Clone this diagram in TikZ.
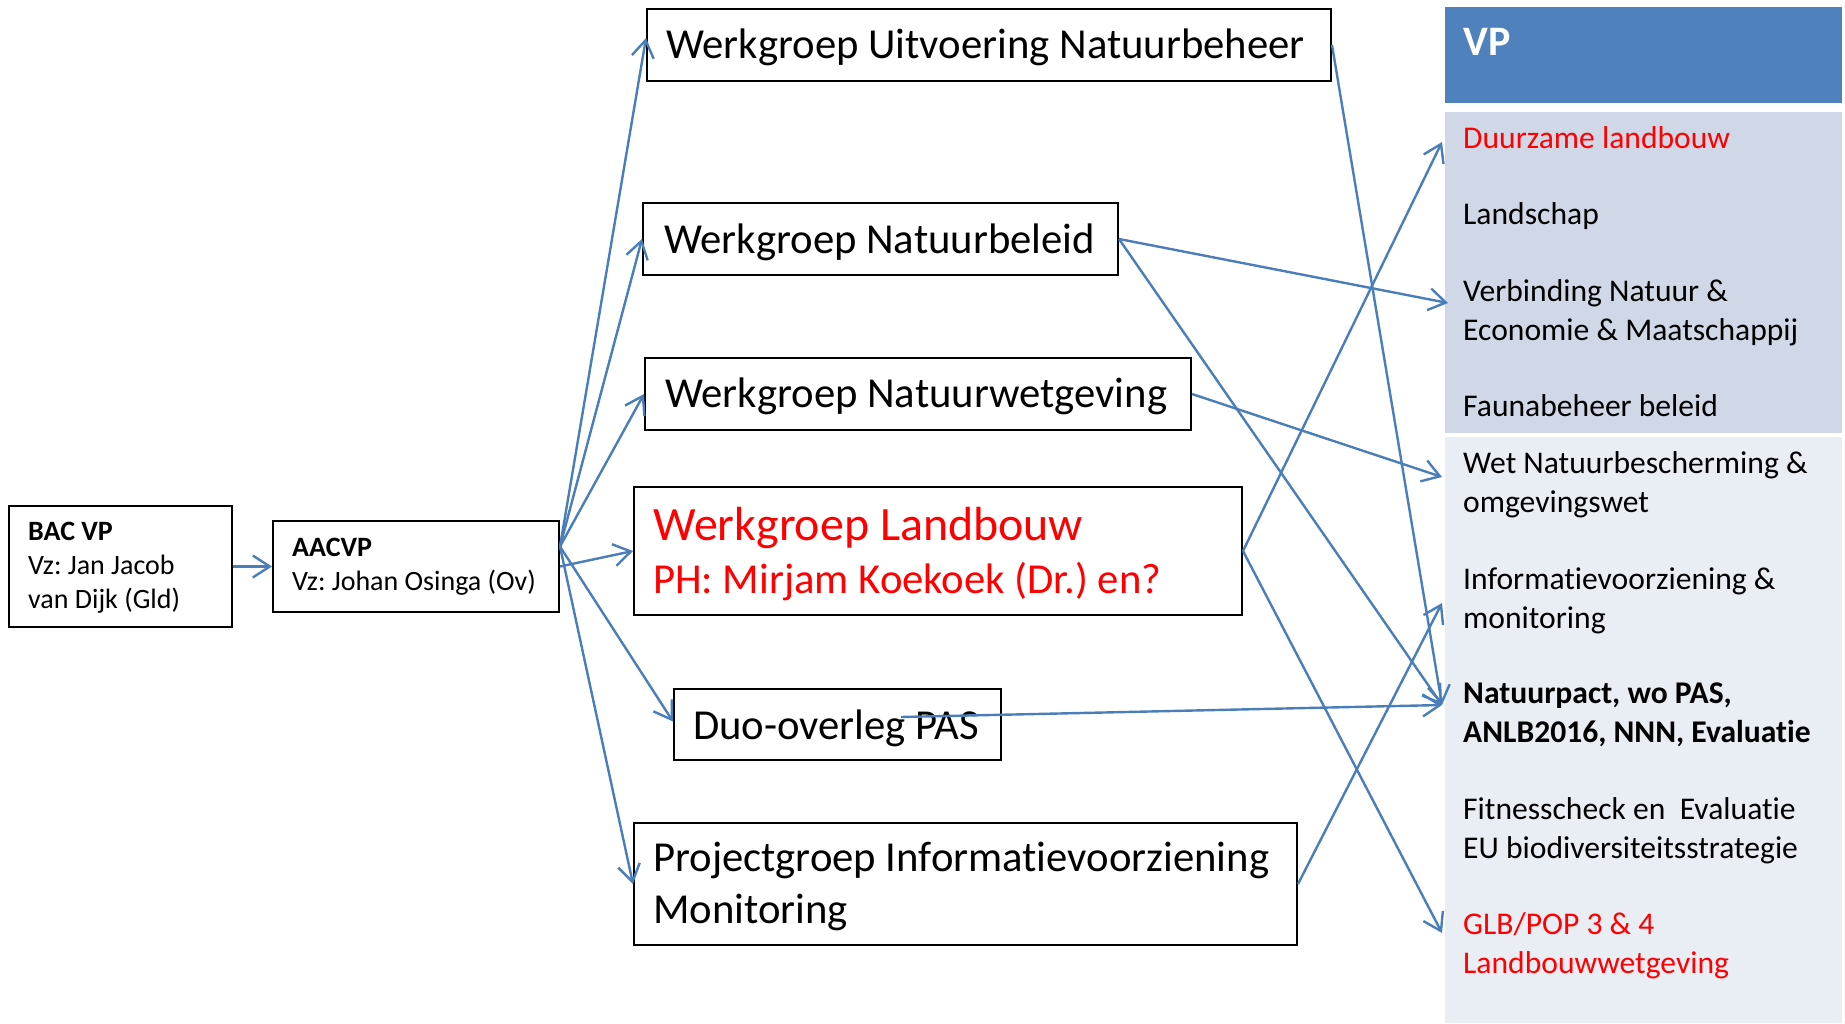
\documentclass[tikz,border=0pt]{standalone}
\usepackage{fontspec}
\setmainfont{Carlito}[Ligatures=NoCommon]
\usetikzlibrary{arrows.meta,calc}
\definecolor{lineblue}{HTML}{4A7EBB}
\definecolor{headblue}{HTML}{4F81BD}
\definecolor{panelA}{HTML}{D0D8E8}
\definecolor{panelB}{HTML}{E9EDF4}
\definecolor{textred}{HTML}{FF0000}
\frenchspacing
\begin{document}
\begin{tikzpicture}[x=1pt,y=-1pt,
  box/.style={draw=black,line width=2pt,fill=white,inner sep=0pt,anchor=north west},
  txt/.style={anchor=base west,align=left,inner sep=0pt},
  conn/.style={draw=lineblue,line width=2.4pt,-{Straight Barb[length=17pt,width=22pt]}},
  midf/.style={font=\fontsize{42.7}{51.5}\selectfont},
  smallf/.style={font=\fontsize{28}{33.8}\selectfont},
  panel/.style={anchor=north west,inner sep=0pt,minimum width=397pt},
  item/.style={anchor=west,align=left,inner xsep=21pt,inner ysep=0pt,font=\fontsize{31.6}{38.7}\selectfont}
]
\useasboundingbox (0,0) rectangle (1845,1023);

% right panel
\node[panel,fill=headblue,minimum height=96pt] (head) at (1445,7) {};
\node[panel,fill=panelA,minimum height=321pt] (panA) at (1445,112) {};
\node[panel,fill=panelB,minimum height=586pt] (panB) at (1445,437) {};
\node[anchor=base west,inner sep=0pt,text=white,font=\fontsize{42}{50}\selectfont\bfseries] (vptext) at (1463,55) {VP};

\node[item,text=textred] (duur) at (1442,138) {Duurzame landbouw};
\node[item] (land) at (1442,216) {Landschap};
\node[item] (verb) at (1442,313) {Verbinding Natuur \&\\Economie \& Maatschappij};
\node[item] (fauna) at (1442,406) {Faunabeheer beleid};
\node[item] (wet) at (1442,485) {Wet Natuurbescherming \&\\omgevingswet};
\node[item] (info) at (1442,601) {Informatievoorziening \&\\monitoring};
\node[item,font=\fontsize{31.6}{38.7}\selectfont\bfseries] (pact) at (1442,715) {Natuurpact, wo PAS,\\ANLB2016, NNN, Evaluatie};
\node[item] (fit) at (1442,831) {Fitnesscheck en\ \ Evaluatie\\EU biodiversiteitsstrategie};
\node[item,text=textred] (glb) at (1442,946) {GLB/POP 3 \& 4\\Landbouwwetgeving};

% left boxes (text nodes anchored at the baseline of their last line)
\node[box,minimum width=223pt,minimum height=121pt] (bac) at (8,505) {};
\node[txt,smallf] (bactext) at (28,608.5) {\textbf{BAC VP}\\Vz: Jan Jacob\\van Dijk (Gld)};
\node[box,minimum width=286pt,minimum height=91pt] (aacvp) at (272,520) {};
\node[txt,smallf] (aacvptext) at (292,590) {\textbf{AACVP}\\Vz: Johan Osinga (Ov)};

% middle boxes
\node[box,minimum width=684pt,minimum height=72pt] (wun) at (646,8) {};
\node[txt,midf] (wuntext) at (666,58) {Werkgroep Uitvoering Natuurbeheer};
\node[box,minimum width=475pt,minimum height=72pt] (wnb) at (642,202) {};
\node[txt,midf] (wnbtext) at (664,253) {Werkgroep Natuurbeleid};
\node[box,minimum width=546pt,minimum height=72pt] (wnw) at (644,357) {};
\node[txt,midf] (wnwtext) at (665,407.5) {Werkgroep Natuurwetgeving};
\node[box,minimum width=608pt,minimum height=128pt] (wl) at (633,486) {};
\node[txt,text=textred,font=\fontsize{42.7}{53}\selectfont] (wltext) at (653,593)
  {{\fontsize{47.9}{53}\selectfont Werkgroep Landbouw}\\PH: Mirjam Koekoek (Dr.) en?};
\node[box,minimum width=327pt,minimum height=71pt] (duo) at (673,688) {};
\node[txt,midf] (duotext) at (693,739) {Duo-overleg PAS};
\node[box,minimum width=663pt,minimum height=122pt] (pim) at (633,822) {};
\node[txt,midf] (pimtext) at (653,923) {Projectgroep Informatievoorziening\\Monitoring};

% connectors
\coordinate (fan) at ([yshift=20pt]aacvp.east);
\coordinate (duoin) at (901,717);

\draw[conn] (bac.east) -- (aacvp.west);
\draw[conn] (fan) -- ([yshift=7pt]wun.west);
\draw[conn] (fan) -- (wnb.west);
\draw[conn] (fan) -- (wnw.west);
\draw[conn] (aacvp.east) -- (wl.west);
\draw[conn] (fan) -- ([yshift=3pt]duo.west);
\draw[conn] (fan) -- (pim.west);

\draw[conn] (wun.east) -- ([yshift=10pt]pact.west);
\draw[conn] (wnb.east) -- ([xshift=6pt,yshift=10pt]verb.west);
\draw[conn] (wnb.east) -- ([yshift=10pt]pact.west);
\draw[conn] (wnw.east) -- ([yshift=8pt]wet.west);
\draw[conn] (wl.east) -- ([yshift=-4pt]duur.west);
\draw[conn] (wl.east) -- ([yshift=13pt]glb.west);
\draw[conn] (duoin) -- ([yshift=10pt]pact.west);
\draw[conn] (pim.east) -- ([yshift=-2pt]info.west);
\end{tikzpicture}
\end{document}
